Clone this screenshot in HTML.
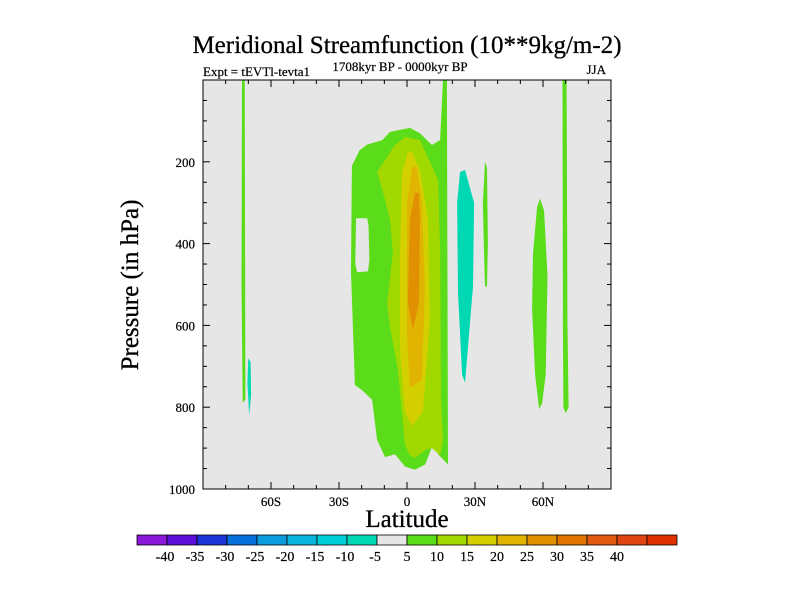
<!DOCTYPE html>
<html><head><meta charset="utf-8">
<style>
html,body{margin:0;padding:0;background:#fff;}
svg{display:block;font-family:"Liberation Serif",serif;}
</style></head>
<body>
<svg id="chart" width="800" height="600" viewBox="0 0 800 600">
  <text x="407" y="53" font-size="25" text-anchor="middle" stroke="#000" stroke-width="0.3">Meridional Streamfunction (10**9kg/m-2)</text>
  <text x="203" y="76" font-size="13" stroke="#000" stroke-width="0.2">Expt = tEVTl-tevta1</text>
  <text x="400" y="71" font-size="13" text-anchor="middle" stroke="#000" stroke-width="0.2">1708kyr BP - 0000kyr BP</text>
  <text x="606" y="74" font-size="13" text-anchor="end" stroke="#000" stroke-width="0.2">JJA</text>
  <rect x="203" y="80" width="408" height="409" fill="#e6e6e6"/>
  <g id="fills"></g>
  <g id="axes"></g>
  <text x="407" y="527" font-size="25" text-anchor="middle" stroke="#000" stroke-width="0.3">Latitude</text>
  <text transform="translate(138,285) rotate(-90)" font-size="25" text-anchor="middle" stroke="#000" stroke-width="0.3">Pressure (in hPa)</text>
  <g id="colorbar"></g>
</svg>
<script>
const levelColors = ["#8a18d8","#5a10d8","#1c34d8","#0670dc","#0a9cdc","#06b4dc","#00ccd8","#00d8b4","#e6e6e6","#5adc1a","#a0d800","#d4d000","#e0b400","#e09000","#e07400","#e05a10","#e03a00"];
const colorbarLabels = ["-40","-35","-30","-25","-20","-15","-10","-5","5","10","15","20","25","30","35","40"];
const xTickLabels = ["60S","30S","0","30N","60N"];
const xTickValues = [-60,-30,0,30,60];
const yTickValues = [200,400,600,800,1000];

// contour regions: [level value, [[lat,pressure],...]]
const regionLevels = [5,-5,5,-5,-5,5,5,5,10,15,20,25];
const regionShapes = [
  [[-72.8,0],[-71.6,0],[-71.3,780],[-72.5,790],[-73.0,500]],
  [[-70.0,680],[-69.0,690],[-68.8,770],[-69.6,820],[-70.4,740]],
  [[-24.3,210],[-20.9,172],[-17.6,158],[-10.9,147],[-7.5,127],[1.3,117],[5.7,130],[11.0,159],[14.6,147],[15.9,0],[17.6,0],[18.1,940],[13.7,915],[11.5,890],[8.0,940],[3.5,953],[-0.9,945],[-5.3,915],[-9.7,922],[-13.2,880],[-15.4,782],[-19.9,758],[-23.0,746],[-24.7,470]],
  [[-22.5,338],[-17.6,338],[-17.0,355],[-16.6,440],[-17.2,468],[-22.0,470],[-22.8,450]],
  [[22.1,300],[23.4,225],[25.6,220],[29.6,300],[29.1,505],[25.6,740],[24.3,720],[22.5,520]],
  [[33.5,300],[34.4,200],[35.3,215],[35.7,400],[35.3,505],[34.4,505],[33.9,400]],
  [[55.6,425],[57.4,310],[58.7,290],[60.5,320],[62.0,480],[61.2,720],[59.6,790],[58.3,805],[56.5,720],[55.2,560]],
  [[68.6,0],[70.4,0],[70.8,600],[71.3,800],[70.0,815],[69.0,800],[68.8,600]],
  [[-0.9,139],[5.7,147],[10.1,200],[13.7,244],[14.6,416],[15.0,782],[15.9,880],[14.6,917],[11.0,900],[7.9,905],[3.5,925],[1.3,917],[-0.9,892],[-4.0,709],[-7.5,604],[-8.8,545],[-6.2,423],[-7.5,342],[-10.6,274],[-13.2,225],[-5.3,159]],
  [[0.4,176],[-2.2,227],[-3.1,420],[-3.1,665],[-0.9,812],[2.2,846],[7.0,812],[10.1,587],[9.3,342],[5.7,220],[2.2,176]],
  [[2.2,213],[0,301],[0,630],[1.3,752],[6.6,733],[7.9,506],[6.6,301],[4.4,213]],
  [[3.5,276],[1.3,342],[0.4,545],[2.6,611],[5.3,545],[5.7,342],[5.3,276]]
];

const X0=407, XS=68/30, Y0=80, YS=409/1000;
const xs = lat => X0 + lat*XS;
const ys = p => Y0 + p*YS;
const colorFor = v => levelColors[Math.max(0,Math.min(16, v>0 ? 9+Math.floor((v-5)/5) : 7-Math.floor((-v-5)/5)))];
const NS="http://www.w3.org/2000/svg";
function mk(tag, attrs, parent){const e=document.createElementNS(NS,tag);for(const k in attrs)e.setAttribute(k,attrs[k]);parent.appendChild(e);return e;}

const fills=document.getElementById('fills');
regionShapes.forEach((pts,i)=>{
  const v=regionLevels[i];
  const d=pts.map(p=>xs(p[0]).toFixed(1)+','+ys(p[1]).toFixed(1)).join(' ');
  const isHole = i===3;
  const el=mk('polygon',{points:d,fill:isHole?'#e6e6e6':colorFor(v),'stroke-linejoin':'round'},fills);
  
  
});

const axes=document.getElementById('axes');
const frame=mk('rect',{x:203,y:80,width:408,height:409,fill:'none',stroke:'#000','stroke-width':1},axes);


for(let lat=-80;lat<=80;lat+=10){
  const x=xs(lat), major=(lat%30===0);
  const len=major?7:4;
  mk('line',{x1:x,y1:489,x2:x,y2:489-len,stroke:'#000'},axes);
  mk('line',{x1:x,y1:80,x2:x,y2:80+len,stroke:'#000'},axes);
}
xTickValues.forEach((v,i)=>{
  const t=mk('text',{x:xs(v),y:506,'font-size':13,'text-anchor':'middle',stroke:'#000','stroke-width':0.2},axes);
  t.textContent=xTickLabels[i];
  
  
});
for(let p=50;p<1000;p+=50){
  const y=ys(p), major=(p%200===0);
  const len=major?7:4;
  mk('line',{x1:203,y1:y,x2:203+len,y2:y,stroke:'#000'},axes);
  mk('line',{x1:611,y1:y,x2:611-len,y2:y,stroke:'#000'},axes);
}
yTickValues.forEach(v=>{
  const t=mk('text',{x:195,y:ys(v)+5,'font-size':13,'text-anchor':'end',stroke:'#000','stroke-width':0.2},axes);
  t.textContent=String(v);
  
  
});

const cb=document.getElementById('colorbar');
const cbColors=["#8a18d8","#5a10d8","#1c34d8","#0670dc","#0a9cdc","#06b4dc","#00ccd8","#00d8b4","#e6e6e6","#5adc1a","#a0d800","#d4d000","#e0b400","#e09000","#e07400","#e05a10","#e04410","#e03000"];
cbColors.forEach((c,i)=>{
  const r=mk('rect',{x:137+i*30,y:535,width:30,height:10,fill:c,stroke:'#000','stroke-width':0.8},cb);
  
  
});
colorbarLabels.forEach((l,i)=>{
  const t=mk('text',{x:167+i*30+(i<8?-2:0),y:561,'font-size':14,'text-anchor':'middle',stroke:'#000','stroke-width':0.2},cb);
  t.textContent=l;
  
  
});
</script>
</body></html>
